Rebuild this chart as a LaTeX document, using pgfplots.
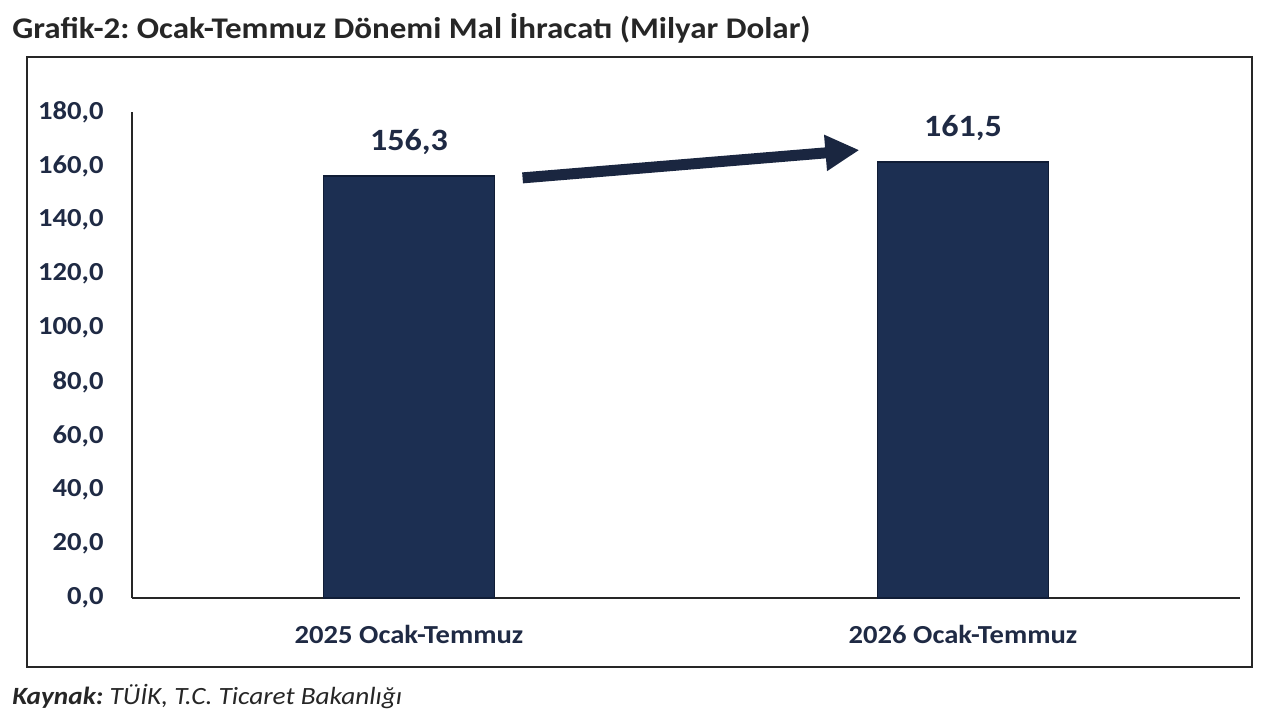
\documentclass[border=0pt]{standalone}
\usepackage{fontspec}
\setmainfont{Carlito}[FakeStretch=1.1]
\usepackage{pgfplots}
\pgfplotsset{compat=1.18}
\usetikzlibrary{arrows.meta}
\definecolor{navy}{HTML}{1C2F52}
\definecolor{navyd}{HTML}{101D36}
\definecolor{lbl}{HTML}{1F2A44}
\definecolor{arr}{HTML}{1A2640}
\frenchspacing
\begin{document}
\begin{tikzpicture}
\path[use as bounding box] (0pt,0pt) rectangle (640pt,360pt);
\draw[line width=1pt, black!85] (13.5pt,26.5pt) rectangle (626pt,331.5pt);
\node[anchor=base west, inner sep=0, font=\bfseries\fontsize{15}{18}\selectfont, text=black!85] at (6pt,341pt) {Grafik-2: Ocak-Temmuz Dönemi Mal İhracatı (Milyar Dolar)};
\node[anchor=base west, inner sep=0, font=\itshape\fontsize{12.4}{14}\selectfont, text=black!85] at (6pt,8pt) {\textbf{Kaynak:} TÜİK, T.C. Ticaret Bakanlığı};
\begin{axis}[at={(66pt,61pt)}, anchor=south west, width=554pt, height=243pt, scale only axis,
  xmin=-0.5, xmax=1.5, ymin=0, ymax=180, clip=false,
  axis x line=bottom, axis y line=left,
  axis line style={-, line width=0.9pt, black!85},
  ytick={0,20,...,180}, xtick={0,1},
  xticklabels={2025 Ocak-Temmuz, 2026 Ocak-Temmuz},
  major tick length=0pt,
  /pgf/number format/.cd, fixed, fixed zerofill, precision=1, use comma, assume math mode=true, /pgfplots/.cd,
  ticklabel style={font=\bfseries\fontsize{13}{15}\selectfont, text=lbl},
  y tick label style={anchor=east, inner sep=0pt, xshift=-14pt},
  x tick label style={anchor=base, inner sep=0pt, yshift=-22.5pt},
  nodes near coords,
  every node near coord/.append style={font=\bfseries\fontsize{15.5}{18}\selectfont, text=lbl, anchor=center, yshift=17pt},
]
\addplot[ybar, bar width=0.31, fill=navy, draw=navyd, line width=0.6pt] coordinates {(0,156.3) (1,161.5)};
\draw[line width=5.5pt, arr, -{Triangle[length=17pt,width=17pt]}] (axis cs:0.205,155.6) -- (axis cs:0.813,165.9);
\end{axis}
\end{tikzpicture}
\end{document}
